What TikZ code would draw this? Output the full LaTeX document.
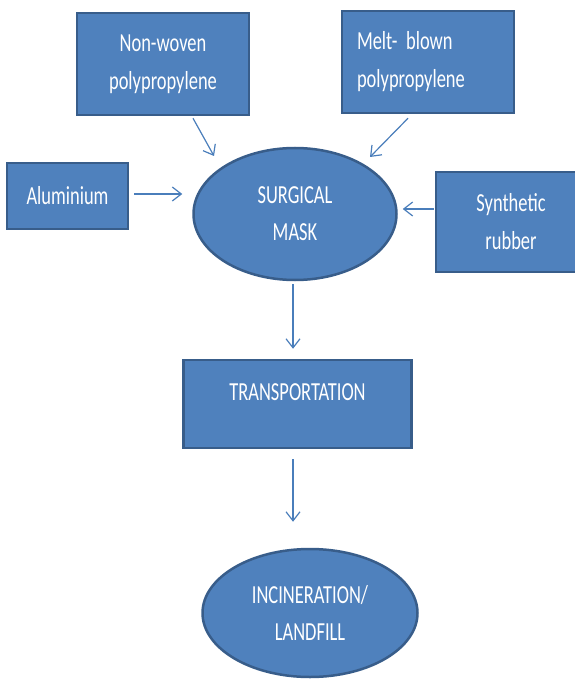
\documentclass[tikz,border=0pt]{standalone}
\usepackage{fontspec}
\setmainfont{Carlito}[FakeStretch=0.71]
\usepackage{xcolor}
\usetikzlibrary{shapes.geometric,arrows.meta}
\definecolor{boxfill}{HTML}{4F81BD}
\definecolor{boxline}{HTML}{385D8A}
\definecolor{flowline}{HTML}{4A7EBB}

\begin{document}
\begin{tikzpicture}[x=1pt,y=-1pt,
box/.style={rectangle,draw=boxline,fill=boxfill,line width=2.5pt,text=white,
  align=center,inner sep=0pt,font=\fontsize{26}{38}\selectfont},
oval/.style={ellipse,draw=boxline,fill=boxfill,line width=2.5pt,text=white,
  align=center,inner sep=0pt,font=\fontsize{26}{37}\selectfont},
flow/.style={draw=flowline,line width=1.2pt,-{Straight Barb[length=9pt,width=14pt]}}
]
\useasboundingbox (0,0) rectangle (574,679);
\fill[white] (0,0) rectangle (574,679);
% inputs
\node[box,minimum width=172pt,minimum height=102pt] (nonwoven) at (163,64) {Non-woven\\polypropylene};
\node[box,minimum width=172pt,minimum height=102pt,text width=142pt,inner xsep=15pt,align=left] (meltblown) at (428,62) {Melt- blown\\polypropylene};
\node[box,minimum width=121pt,minimum height=66pt] (aluminium) at (67.5,196) {Aluminium};
\node[box,minimum width=150pt,minimum height=100pt,text width=142pt,inner xsep=4pt] (rubber) at (511,222) {Synthetic\\rubber};
% product and end of life
\node[oval,minimum width=203pt,minimum height=132pt] (mask) at (295,214) {SURGICAL\\MASK};
\node[box,minimum width=228pt,minimum height=88pt,text height=18pt,text depth=25pt] (transport) at (297.5,404) {TRANSPORTATION};
\node[oval,minimum width=215pt,minimum height=128pt] (incin) at (310,613) {INCINERATION/\\LANDFILL};
% connectors
\draw[flow] ([xshift=30pt,yshift=-2pt]nonwoven.south) -- ([xshift=-81pt,yshift=58pt]mask.center);
\draw[flow] ([xshift=-20pt,yshift=-4pt]meltblown.south) -- ([xshift=75pt,yshift=57pt]mask.center);
\draw[flow] ([xshift=5pt,yshift=2pt]aluminium.east) -- ([xshift=-10pt,yshift=20pt]mask.west);
\draw[flow] ([xshift=-1pt,yshift=13pt]rubber.west) -- ([xshift=5pt,yshift=5pt]mask.east);
\draw[flow] ([xshift=-2pt,yshift=-3pt]mask.south) -- ([xshift=-4.5pt,yshift=10pt]transport.north);
\draw[flow] ([xshift=-4.5pt,yshift=-10pt]transport.south) -- ([xshift=-17pt,yshift=26pt]incin.north);
\end{tikzpicture}
\end{document}
